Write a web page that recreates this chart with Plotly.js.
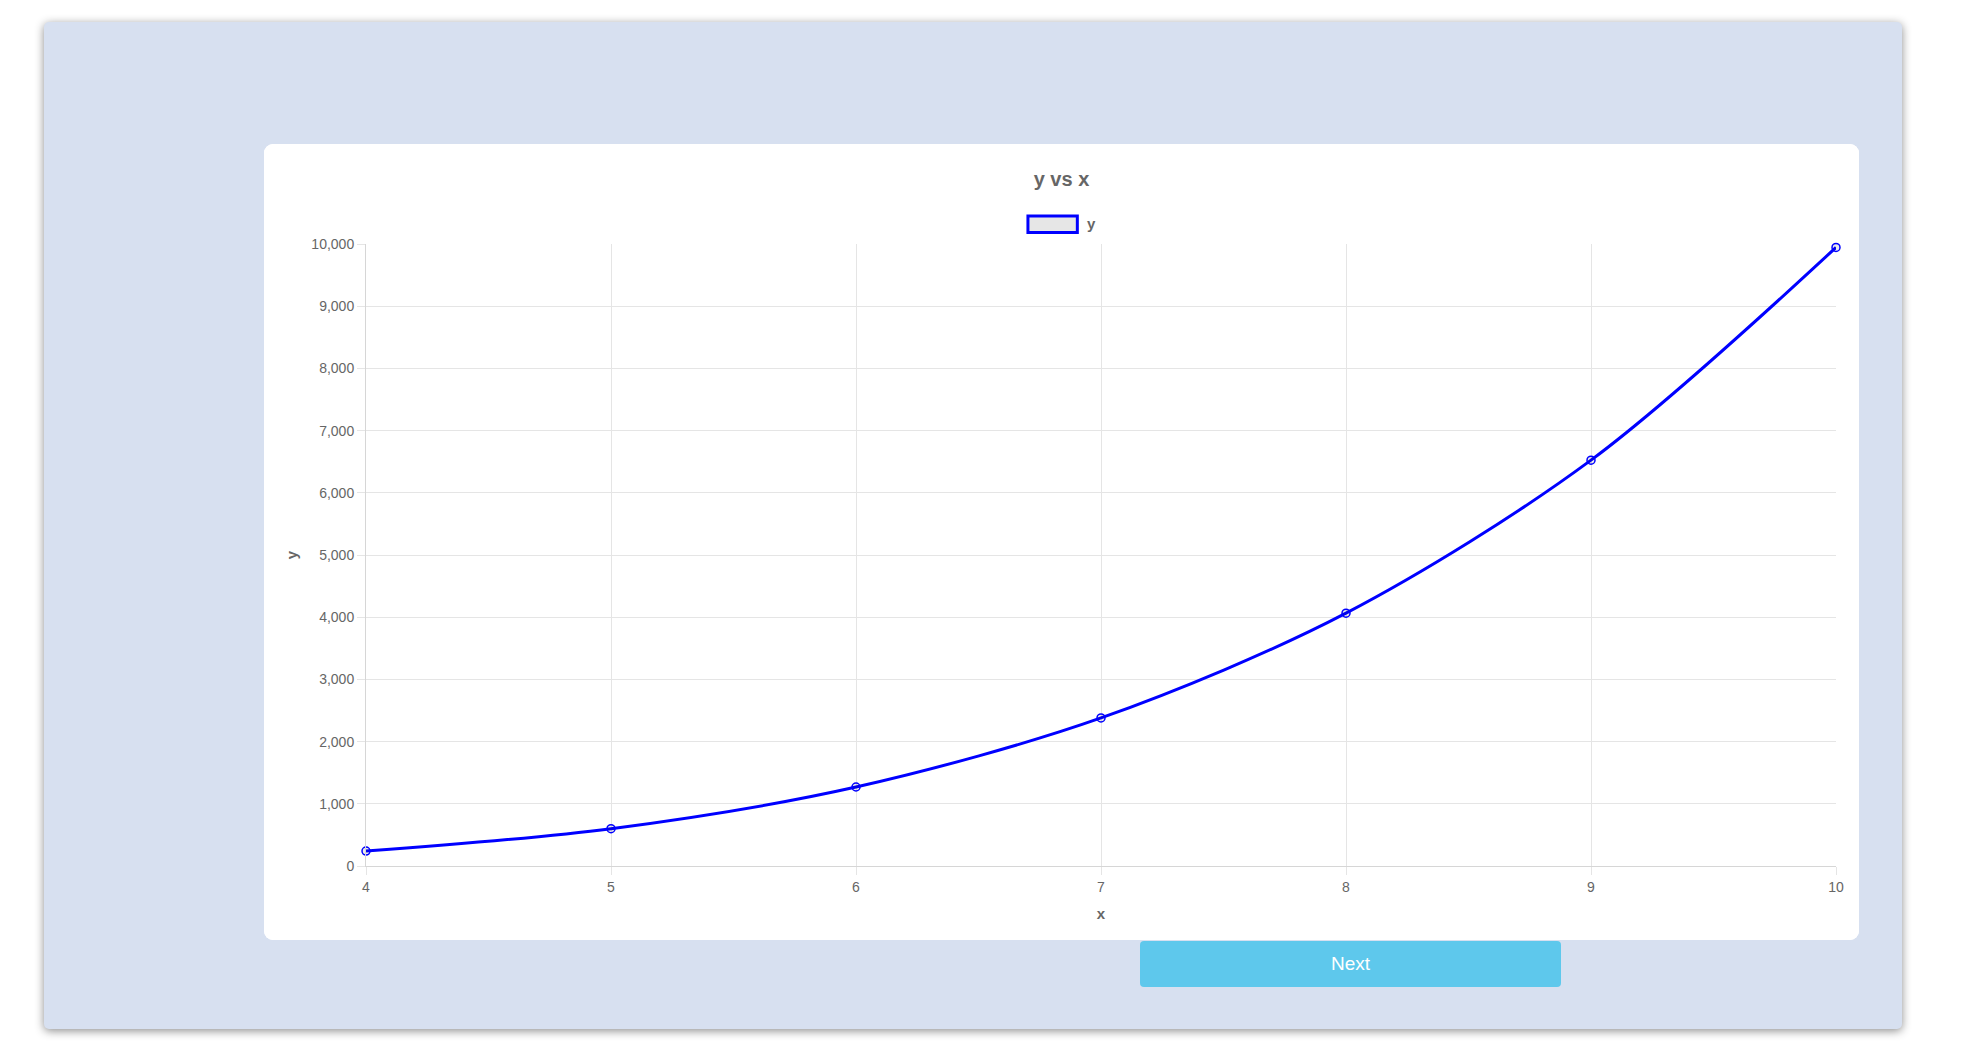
<!DOCTYPE html>
<html>
<head>
<meta charset="utf-8">
<script src="https://cdn.plot.ly/plotly-3.0.1.min.js"></script>
<style>
  html, body { margin: 0; padding: 0; background: #ffffff; width: 1966px; height: 1052px; overflow: hidden; }
  #outer {
    position: absolute; left: 44px; top: 22px; width: 1858px; height: 1007px;
    background: #d7e0f0; border-radius: 5px;
    box-shadow: 0 2px 10px rgba(0,0,0,0.45);
  }
  #card {
    position: absolute; left: 264px; top: 144px; width: 1595px; height: 796px;
    background: #ffffff; border-radius: 9px; overflow: hidden;
  }
  #chart { width: 1595px; height: 796px; }
  #next {
    position: absolute; left: 1140px; top: 941px; width: 421px; height: 46px;
    background: #5ec8ec; border-radius: 4px; color: #ffffff;
    font-family: "Helvetica Neue", Helvetica, Arial, "Liberation Sans", sans-serif;
    font-size: 19px; line-height: 46px; text-align: center;
  }
</style>
</head>
<body>
<div id="outer"></div>
<div id="card"><div id="chart"></div></div>
<div id="next">Next</div>
<script>
const xValues = [4, 5, 6, 7, 8, 9, 10];
const yValues = [240, 600, 1270, 2380, 4065, 6525, 9945];
const seriesName = "y";
const chartTitle = "y vs x";
const xTitle = "x";
const yTitle = "y";

const font = '"Helvetica Neue", Helvetica, Arial, "Liberation Sans", sans-serif';
const grey = '#666666';
const grid = '#e5e5e5';

const trace = {
  x: xValues, y: yValues, name: seriesName, type: 'scatter', mode: 'lines+markers',
  line: { color: '#0000ff', width: 3, shape: 'spline', smoothing: 0.9 },
  marker: { symbol: 'circle', size: 8, color: 'rgba(0,0,0,0.08)', line: { color: '#0000ff', width: 1.5 } },
  cliponaxis: false,
  showlegend: false, hoverinfo: 'x+y'
};

const layout = {
  width: 1595, height: 796,
  margin: { l: 102, r: 23, t: 100, b: 74, pad: 0 },
  paper_bgcolor: '#ffffff', plot_bgcolor: '#ffffff',
  font: { family: font, color: grey, size: 14 },
  separators: '.,',
  title: { text: '<b>' + chartTitle + '</b>', font: { family: font, size: 20, color: grey },
           x: 0.5, xanchor: 'center', xref: 'container', y: 0.956, yanchor: 'middle', yref: 'container' },
  showlegend: false,
  xaxis: {
    range: [4, 10], tickmode: 'linear', tick0: 4, dtick: 1,
    showgrid: true, gridcolor: grid, gridwidth: 1, zeroline: false,
    showline: true, linecolor: '#d6d6d6', linewidth: 1, mirror: false,
    ticks: 'outside', ticklen: 8, tickcolor: grid, tickwidth: 1,
    tickfont: { family: font, size: 14, color: grey },
    title: { text: '<b>' + xTitle + '</b>', font: { family: font, size: 15, color: grey }, standoff: 14 },
    automargin: false, fixedrange: true
  },
  yaxis: {
    range: [0, 10000], tickmode: 'linear', tick0: 0, dtick: 1000, tickformat: ',d',
    showgrid: true, gridcolor: grid, gridwidth: 1, zeroline: false,
    showline: true, linecolor: '#d6d6d6', linewidth: 1,
    ticks: 'outside', ticklen: 8, tickcolor: grid, tickwidth: 1,
    tickfont: { family: font, size: 14, color: grey },
    title: { text: '<b>' + yTitle + '</b>', font: { family: font, size: 15, color: grey }, standoff: 10 },
    automargin: false, fixedrange: true
  },
  shapes: [
    { type: 'rect', xref: 'paper', yref: 'paper', x0: 0.4503, x1: 0.4839, y0: 1.0185, y1: 1.0452,
      line: { color: '#0000ff', width: 3 }, fillcolor: '#e6e6e6' }
  ],
  annotations: [
    { text: '<b>' + seriesName + '</b>', xref: 'paper', yref: 'paper', x: 0.4893, y: 1.0325,
      xanchor: 'left', yanchor: 'middle', showarrow: false, font: { family: font, size: 15, color: grey } }
  ]
};

Plotly.newPlot('chart', [trace], layout, { displayModeBar: false, staticPlot: false, responsive: false });
</script>
</body>
</html>
